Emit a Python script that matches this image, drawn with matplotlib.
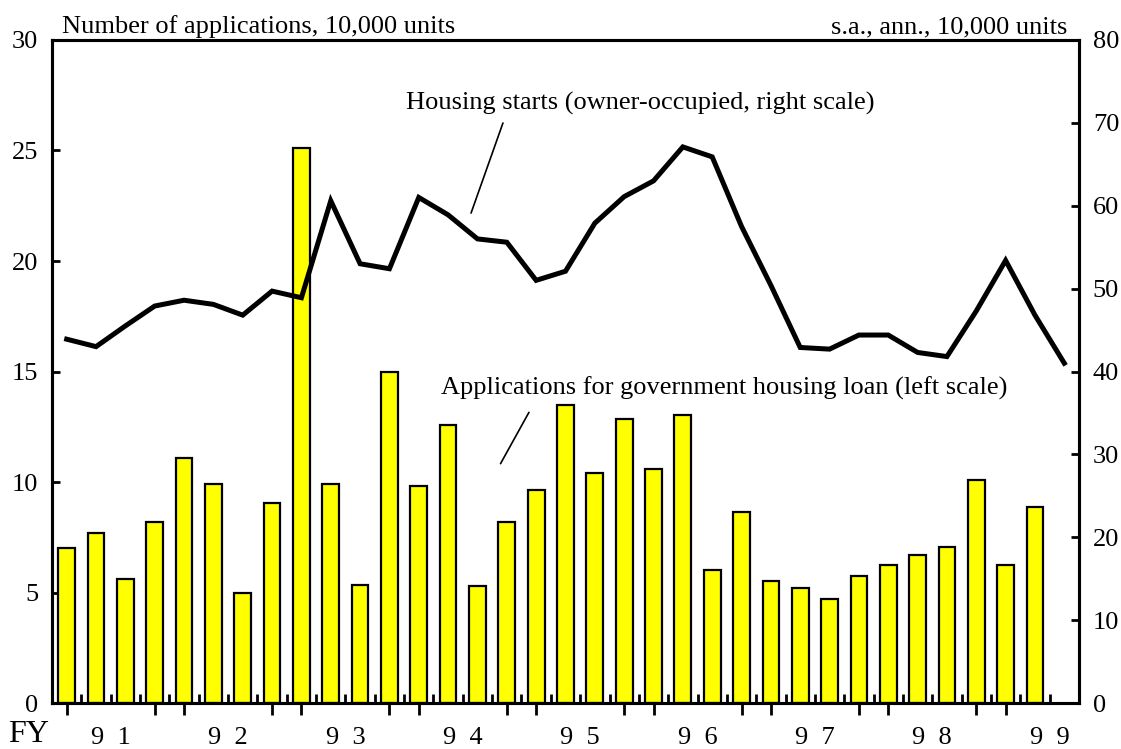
import numpy as np
import matplotlib
matplotlib.use("Agg")
from matplotlib import pyplot as plt

plt.rcParams['font.family'] = ['Liberation Serif', 'DejaVu Serif']

# applications for government housing loan (left scale, 10,000 units), quarterly FY91 Q1 ..
applications = [7.0, 7.7, 5.6, 8.2, 11.1, 9.9, 5.0, 9.05, 25.1,
                9.9, 5.35, 15.0, 9.8, 12.6, 5.3, 8.2, 9.65, 13.5,
                10.4, 12.85, 10.6, 13.05, 6.0, 8.65, 5.5, 5.2, 4.7,
                5.75, 6.25, 6.7, 7.05, 10.1, 6.25, 8.85]
# housing starts, owner-occupied (right scale, s.a. ann., 10,000 units)
starts = [43.9, 43.0, 45.5, 47.9, 48.6, 48.1, 46.8, 49.7, 48.9,
          60.6, 53.0, 52.4, 61.0, 58.9, 56.0, 55.6, 51.0, 52.1,
          57.9, 61.1, 63.0, 67.1, 65.9, 57.5, 50.4, 42.9, 42.7,
          44.4, 44.4, 42.3, 41.8, 47.3, 53.4, 46.8, 41.0]
years = ['9 1', '9 2', '9 3', '9 4', '9 5', '9 6', '9 7', '9 8', '9 9']

fs = 19

fig = plt.figure(figsize=(11.21, 7.49), dpi=100)
ax = fig.add_axes([0.0464, 0.0614, 0.9161, 0.8852])
ax2 = ax.twinx()

xb = np.arange(len(applications))
xl = np.arange(len(starts))
ax.bar(xb, applications, width=0.57, color='#ffff00', edgecolor='black', linewidth=1.6, zorder=2)
ax2.plot(xl, starts, color='black', linewidth=3.6, solid_joinstyle='miter')

ax.set_xlim(-0.5, 34.5)
ax.set_ylim(0, 30)
ax2.set_ylim(0, 80)
ax.set_yticks(np.arange(0, 31, 5))
ax2.set_yticks(np.arange(0, 81, 10))

for a in (ax, ax2):
    for s in a.spines.values():
        s.set_linewidth(2.2)
        s.set_color('black')

ax.tick_params(axis='y', direction='in', length=6, width=2, labelsize=fs, pad=10)
ax2.tick_params(axis='y', direction='in', length=6, width=2, labelsize=fs, pad=10)

# long ticks at first and last quarter of each year, short ticks between quarters
big = [i for i in range(len(starts)) if i % 4 in (0, 3)]
ax.set_xticks(big)
ax.set_xticklabels([])
ax.set_xticks(np.arange(0.5, 34, 1), minor=True)
ax.tick_params(axis='x', which='major', direction='inout', length=17, width=2)
ax.tick_params(axis='x', which='minor', direction='in', length=6.5, width=2)

for k, lab in enumerate(years):
    ax.text(4 * k + 1.5, -0.0528, lab.replace(' ', '  '), transform=ax.get_xaxis_transform(),
            ha='center', va='center', fontsize=fs)
fig.text(8 / 1121, 1 - 735 / 749, 'FY', ha='left', va='center', fontsize=23)

ax.text(0.0097, 1.0106, 'Number of applications, 10,000 units', transform=ax.transAxes,
        ha='left', va='baseline', fontsize=fs)
ax.text(0.989, 1.0106, 's.a., ann., 10,000 units', transform=ax.transAxes,
        ha='right', va='baseline', fontsize=fs)

ax2.annotate('', xy=(13.75, 58.8), xytext=(14.9, 70.3),
             arrowprops=dict(arrowstyle='-', color='black', linewidth=1.2))
ax2.text(19.56, 72.3, 'Housing starts (owner-occupied, right scale)',
         ha='center', va='center', fontsize=fs)
ax.annotate('', xy=(14.74, 10.72), xytext=(15.8, 13.26),
            arrowprops=dict(arrowstyle='-', color='black', linewidth=1.2))
ax.text(22.4, 14.25, 'Applications for government housing loan (left scale)',
        ha='center', va='center', fontsize=fs)

fig.savefig('out.png', dpi=100)
